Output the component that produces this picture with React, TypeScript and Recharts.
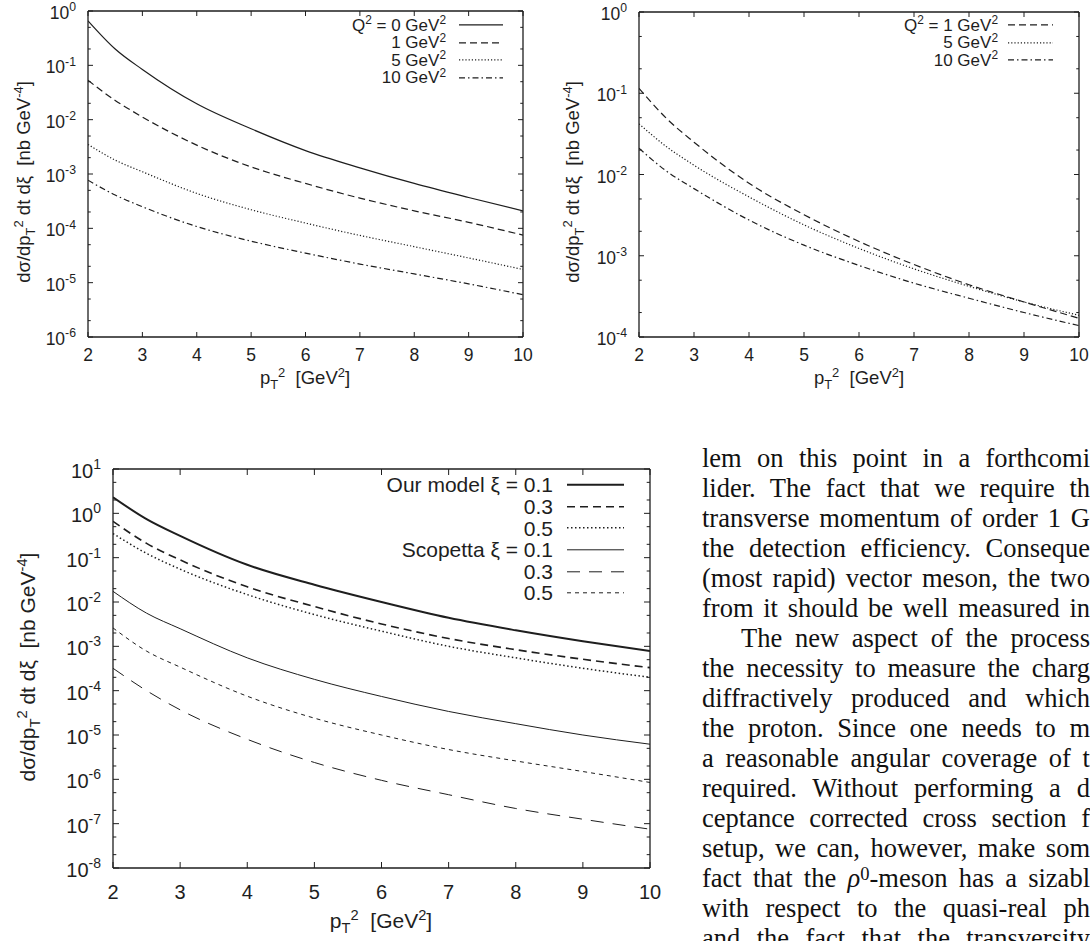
import React from 'react';
import { LineChart, Line, XAxis, YAxis, ReferenceLine, Legend } from 'recharts';

// p_T^2 grid (GeV^2) the curves were read at
const pt2 = [2, 2.5, 3, 4, 5, 6, 7, 8, 9, 10];
const xTicks = [2, 3, 4, 5, 6, 7, 8, 9, 10];
const minorMant = [2, 5];

// upper left panel
const tlQ0 = [0.66, 0.2, 0.084, 0.0196, 0.0068, 0.0027, 0.0013, 6.7e-4, 3.7e-4, 2.1e-4];
const tlQ1 = [0.053, 0.0226, 0.0112, 0.0034, 0.00135, 6.7e-4, 3.6e-4, 2.1e-4, 1.29e-4, 7.5e-5];
const tlQ5 = [3.5e-3, 1.8e-3, 1.1e-3, 4.4e-4, 2.2e-4, 1.25e-4, 7.4e-5, 4.6e-5, 2.85e-5, 1.75e-5];
const tlQ10 = [7.7e-4, 4.1e-4, 2.5e-4, 1.08e-4, 5.8e-5, 3.5e-5, 2.2e-5, 1.45e-5, 9.5e-6, 6e-6];
const tlLabels = ['Q^2 = 0 GeV^2', '1 GeV^2', '5 GeV^2', '10 GeV^2'];
const tlExps = [0, -1, -2, -3, -4, -5, -6];

// upper right panel
const trQ1 = [0.115, 0.049, 0.025, 7.8e-3, 3.2e-3, 1.5e-3, 7.8e-4, 4.4e-4, 2.7e-4, 1.7e-4];
const trQ5 = [0.042, 0.022, 0.013, 5.3e-3, 2.4e-3, 1.23e-3, 6.9e-4, 4.2e-4, 2.7e-4, 1.85e-4];
const trQ10 = [0.021, 0.011, 6.7e-3, 2.75e-3, 1.35e-3, 7.6e-4, 4.6e-4, 3.0e-4, 2.0e-4, 1.38e-4];
const trLabels = ['Q^2 = 1 GeV^2', '5 GeV^2', '10 GeV^2'];
const trExps = [0, -1, -2, -3, -4];

// lower panel: our model vs Scopetta
const ourXi1 = [2.3, 0.74, 0.31, 0.069, 0.0245, 0.01, 4.4e-3, 2.3e-3, 1.3e-3, 7.8e-4];
const ourXi3 = [0.66, 0.21, 0.089, 0.022, 7.9e-3, 3.2e-3, 1.5e-3, 8.4e-4, 5.1e-4, 3.3e-4];
const ourXi5 = [0.35, 0.125, 0.055, 0.0147, 5.2e-3, 2.2e-3, 1e-3, 5.5e-4, 3.2e-4, 2e-4];
const scoXi1 = [0.0174, 5.6e-3, 2.5e-3, 5.5e-4, 1.8e-4, 7.4e-5, 3.4e-5, 1.8e-5, 1.0e-5, 6.2e-6];
const scoXi3 = [3.2e-4, 1e-4, 3.7e-5, 8e-6, 2.4e-6, 9.5e-7, 4.5e-7, 2.2e-7, 1.26e-7, 7.5e-8];
const scoXi5 = [2.6e-3, 7.8e-4, 3.4e-4, 7.5e-5, 2.4e-5, 1.0e-5, 4.7e-6, 2.6e-6, 1.5e-6, 8.5e-7];
const btLabels = ['Our model ξ = 0.1', '0.3', '0.5', 'Scopetta ξ = 0.1', '0.3', '0.5'];
const btExps = [1, 0, -1, -2, -3, -4, -5, -6, -7, -8];

// text column to the right of the lower panel (cut at the page edge)
const bodyLines = [
  'lem on this point in a forthcomi',
  'lider. The fact that we require th',
  'transverse momentum of order 1 G',
  'the detection efficiency. Conseque',
  '(most rapid) vector meson, the two',
  'from it should be well measured in',
  'The new aspect of the process',
  'the necessity to measure the charg',
  'diffractively produced and which',
  'the proton. Since one needs to m',
  'a reasonable angular coverage of t',
  'required. Without performing a d',
  'ceptance corrected cross section f',
  'setup, we can, however, make som',
  'fact that the ρ^0-meson has a sizabl',
  'with respect to the quasi-real ph',
  'and the fact that the transversity',
];

const INK = '#1e1e1e';
const SANS = '"Liberation Sans", Arial, sans-serif';
const SERIF = '"Liberation Serif", "Times New Roman", serif';

type Series = { key: string; values: number[]; label: string; dash?: string; width: number };

function withSup(s: string) {
  return s.split(/\^(\S+)/).map((p, i) =>
    i % 2 ? (
      <span key={i} style={{ fontSize: '0.7em', position: 'relative', top: '-0.55em' }}>{p}</span>
    ) : (
      <React.Fragment key={i}>{p}</React.Fragment>
    )
  );
}

function logTicks(exps: number[]) {
  const top = Math.max(...exps);
  const out: number[] = [];
  exps.forEach((e) => {
    out.push(10 ** e);
    if (e < top) minorMant.forEach((m) => out.push(m * 10 ** e));
  });
  return out.sort((a, b) => a - b);
}

type Cfg = {
  box: { left: number; top: number; width: number; height: number };
  plot: { l: number; t: number; r: number; b: number };
  exps: number[];
  fs: number;
  tfs: number;
  tickLen: number;
  xLabelDy: number;
  yLabelGap: number;
  yTitle: { x: number; y: number };
  xTitle: { x: number; y: number };
  lg: { left: number; top: number; width: number; rowH: number; gap: number; sample: number; fs: number };
};

function Panel({ cfg, series }: { cfg: Cfg; series: Series[] }) {
  const { box, plot, exps, fs, tfs, tickLen, lg } = cfg;
  const data = pt2.map((x, i) => {
    const row: Record<string, number> = { x };
    series.forEach((s) => (row[s.key] = s.values[i]));
    return row;
  });
  const yDomain = [10 ** Math.min(...exps), 10 ** Math.max(...exps)];
  const frame = { stroke: INK, strokeWidth: 1.3 };

  const xTick = (props: any) => {
    const { x, payload } = props;
    return (
      <g>
        <line x1={x} x2={x} y1={plot.b} y2={plot.b - tickLen} stroke={INK} />
        <line x1={x} x2={x} y1={plot.t} y2={plot.t + tickLen} stroke={INK} />
        <text x={x} y={plot.b + cfg.xLabelDy} dy="0.35em" textAnchor="middle" fontSize={fs} fontFamily={SANS} fill={INK}>
          {payload.value}
        </text>
      </g>
    );
  };

  const yTick = (props: any) => {
    const { y, payload } = props;
    const lg10 = Math.log10(payload.value);
    const e = Math.round(lg10);
    const major = Math.abs(lg10 - e) < 1e-9;
    const len = major ? tickLen : tickLen * 0.55;
    return (
      <g>
        <line x1={plot.l} x2={plot.l + len} y1={y} y2={y} stroke={INK} />
        <line x1={plot.r - len} x2={plot.r} y1={y} y2={y} stroke={INK} />
        {major && (
          <text x={plot.l - cfg.yLabelGap} y={y + 2} dy="0.35em" textAnchor="end" fontSize={fs} fontFamily={SANS} fill={INK}>
            10
            <tspan dy={-0.45 * fs} fontSize={fs * 0.7}>{e}</tspan>
          </text>
        )}
      </g>
    );
  };

  const sfs = tfs * 0.7;
  const yTitle = () => {
    const { x, y } = cfg.yTitle;
    return (
      <text x={x} y={y} transform={`rotate(-90 ${x} ${y})`} textAnchor="middle" dy="0.35em" fontSize={tfs} fontFamily={SANS} fill={INK}>
        dσ/dp
        <tspan dy={0.22 * tfs} fontSize={sfs}>T</tspan>
        <tspan dy={-0.62 * tfs} fontSize={sfs}>2</tspan>
        <tspan dy={0.4 * tfs}>{' dt dξ\u00a0\u00a0[nb GeV'}</tspan>
        <tspan dy={-0.4 * tfs} fontSize={sfs}>-4</tspan>
        <tspan dy={0.4 * tfs}>]</tspan>
      </text>
    );
  };

  const xTitle = () => {
    const { x, y } = cfg.xTitle;
    return (
      <text x={x} y={y} textAnchor="middle" dy="0.35em" fontSize={tfs} fontFamily={SANS} fill={INK}>
        p
        <tspan dy={0.22 * tfs} fontSize={sfs}>T</tspan>
        <tspan dy={-0.62 * tfs} fontSize={sfs}>2</tspan>
        <tspan dy={0.4 * tfs}>{'\u00a0\u00a0[GeV'}</tspan>
        <tspan dy={-0.4 * tfs} fontSize={sfs}>2</tspan>
        <tspan dy={0.4 * tfs}>]</tspan>
      </text>
    );
  };

  const legendContent = () => (
    <div style={{ fontFamily: SANS, fontSize: lg.fs, lineHeight: 1, color: INK }}>
      {series.map((s) => (
        <div key={s.key} style={{ display: 'flex', alignItems: 'center', height: lg.rowH }}>
          <span style={{ flex: 1, textAlign: 'right', whiteSpace: 'nowrap', lineHeight: 1 }}>{withSup(s.label)}</span>
          <svg width={lg.gap + lg.sample} height={lg.rowH} style={{ display: 'block' }}>
            <line
              x1={lg.gap}
              x2={lg.gap + lg.sample}
              y1={lg.rowH / 2}
              y2={lg.rowH / 2}
              stroke={INK}
              strokeWidth={s.width}
              strokeDasharray={s.dash}
            />
          </svg>
        </div>
      ))}
    </div>
  );

  return (
    <div style={{ position: 'absolute', left: box.left, top: box.top }}>
      <LineChart
        width={box.width}
        height={box.height}
        data={data}
        margin={{ top: plot.t, left: 0, right: box.width - plot.r, bottom: 0 }}
      >
        <XAxis
          dataKey="x"
          type="number"
          domain={[2, 10]}
          ticks={xTicks}
          interval={0}
          allowDataOverflow
          height={box.height - plot.b}
          tickLine={false}
          axisLine={frame}
          tick={xTick}
          label={{ content: xTitle }}
        />
        <YAxis
          type="number"
          scale="log"
          domain={yDomain}
          allowDataOverflow
          ticks={logTicks(exps)}
          interval={0}
          width={plot.l}
          tickLine={false}
          axisLine={frame}
          tick={yTick}
          label={{ content: yTitle }}
        />
        <ReferenceLine y={yDomain[1]} {...frame} />
        <ReferenceLine x={10} {...frame} />
        {series.map((s) => (
          <Line
            key={s.key}
            dataKey={s.key}
            type="monotone"
            stroke={INK}
            strokeWidth={s.width}
            strokeDasharray={s.dash}
            dot={false}
            activeDot={false}
            isAnimationActive={false}
          />
        ))}
        <Legend
          layout="vertical"
          align="center"
          verticalAlign="middle"
          wrapperStyle={{ left: lg.left, top: lg.top, width: lg.width, right: 'auto', bottom: 'auto' }}
          content={legendContent}
        />
      </LineChart>
    </div>
  );
}

const topLeftCfg: Cfg = {
  box: { left: 0, top: 0, width: 545, height: 400 },
  plot: { l: 88, t: 11, r: 523, b: 337 },
  exps: tlExps,
  fs: 17.5,
  tfs: 18.5,
  tickLen: 5,
  xLabelDy: 18,
  yLabelGap: 12,
  yTitle: { x: 24, y: 182 },
  xTitle: { x: 305, y: 378 },
  lg: { left: 203, top: 16.3, width: 300, rowH: 17.6, gap: 13, sample: 44, fs: 17 },
};

const topRightCfg: Cfg = {
  box: { left: 545, top: 0, width: 545, height: 400 },
  plot: { l: 94, t: 12, r: 534, b: 337 },
  exps: trExps,
  fs: 17.5,
  tfs: 18.5,
  tickLen: 5,
  xLabelDy: 18,
  yLabelGap: 12,
  yTitle: { x: 28, y: 182 },
  xTitle: { x: 314, y: 378 },
  lg: { left: 208, top: 16.3, width: 300, rowH: 17.6, gap: 10, sample: 45, fs: 17 },
};

const bottomCfg: Cfg = {
  box: { left: 0, top: 430, width: 700, height: 511 },
  plot: { l: 113, t: 39, r: 650, b: 438 },
  exps: btExps,
  fs: 20,
  tfs: 21,
  tickLen: 6,
  xLabelDy: 24,
  yLabelGap: 12,
  yTitle: { x: 28, y: 237 },
  xTitle: { x: 381, y: 491 },
  lg: { left: 224, top: 44.2, width: 400, rowH: 21.6, gap: 14, sample: 57, fs: 21 },
};

const topLeftSeries: Series[] = [
  { key: 'q0', values: tlQ0, label: tlLabels[0], width: 1.2 },
  { key: 'q1', values: tlQ1, label: tlLabels[1], dash: '7 4', width: 1.2 },
  { key: 'q5', values: tlQ5, label: tlLabels[2], dash: '1.2 2', width: 1.2 },
  { key: 'q10', values: tlQ10, label: tlLabels[3], dash: '6 3 1.5 3', width: 1.2 },
];

const topRightSeries: Series[] = [
  { key: 'q1', values: trQ1, label: trLabels[0], dash: '7 4', width: 1.2 },
  { key: 'q5', values: trQ5, label: trLabels[1], dash: '1.2 2', width: 1.2 },
  { key: 'q10', values: trQ10, label: trLabels[2], dash: '6 3 1.5 3', width: 1.2 },
];

const bottomSeries: Series[] = [
  { key: 'our1', values: ourXi1, label: btLabels[0], width: 2 },
  { key: 'our3', values: ourXi3, label: btLabels[1], dash: '8 5', width: 1.6 },
  { key: 'our5', values: ourXi5, label: btLabels[2], dash: '1.5 2.5', width: 1.5 },
  { key: 'sco1', values: scoXi1, label: btLabels[3], width: 1 },
  { key: 'sco3', values: scoXi3, label: btLabels[4], dash: '13 9', width: 1 },
  { key: 'sco5', values: scoXi5, label: btLabels[5], dash: '4 4', width: 1 },
];

function bodyLine(s: string) {
  return s.split(/(ρ\^0)/).map((p, i) =>
    p === 'ρ^0' ? (
      <React.Fragment key={i}>
        <i>ρ</i>
        <span style={{ fontSize: '0.7em', position: 'relative', top: '-0.4em' }}>0</span>
      </React.Fragment>
    ) : (
      <React.Fragment key={i}>{p}</React.Fragment>
    )
  );
}

export default function App() {
  return (
    <div
      style={{ position: 'absolute', left: 0, top: 0, width: 1090, height: 941, overflow: 'hidden', background: '#fff' }}
    >
      <Panel cfg={topLeftCfg} series={topLeftSeries} />
      <Panel cfg={topRightCfg} series={topRightSeries} />
      <Panel cfg={bottomCfg} series={bottomSeries} />
      <div
        style={{
          position: 'absolute',
          left: 702,
          top: 443,
          width: 388,
          fontFamily: SERIF,
          fontSize: 26.5,
          color: '#111',
        }}
      >
        {bodyLines.map((s, i) => (
          <div
            key={i}
            style={{
              height: 30,
              lineHeight: '30px',
              overflow: 'hidden',
              textAlign: 'justify',
              textAlignLast: 'justify',
              paddingLeft: i === 6 ? 39 : 0,
            }}
          >
            {bodyLine(s)}
          </div>
        ))}
      </div>
    </div>
  );
}
